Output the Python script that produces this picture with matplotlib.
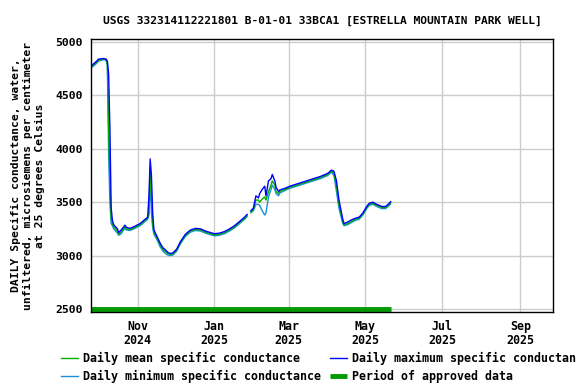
import matplotlib
matplotlib.use("Agg")
import matplotlib.pyplot as plt
import numpy as np
import pandas as pd

dates = ["2024-09-26","2024-09-29","2024-10-01","2024-10-05","2024-10-07","2024-10-08",
         "2024-10-09","2024-10-10","2024-10-11","2024-10-12","2024-10-13","2024-10-16",
         "2024-10-17","2024-10-19","2024-10-20","2024-10-22","2024-10-23","2024-10-26",
         "2024-10-29","2024-11-03","2024-11-07","2024-11-09","2024-11-10","2024-11-11",
         "2024-11-12","2024-11-13","2024-11-14","2024-11-17","2024-11-19","2024-11-21",
         "2024-11-23","2024-11-25","2024-11-27","2024-11-29","2024-12-02","2024-12-05",
         "2024-12-09","2024-12-13","2024-12-17","2024-12-21","2024-12-25","2024-12-29",
         "2025-01-01","2025-01-05","2025-01-09","2025-01-13","2025-01-17","2025-01-21",
         "2025-01-25","2025-01-27","2025-01-28","2025-01-30","2025-02-01","2025-02-03",
         "2025-02-05","2025-02-06","2025-02-08","2025-02-10","2025-02-11","2025-02-13",
         "2025-02-15","2025-02-16","2025-02-18","2025-02-19","2025-02-21","2025-02-22",
         "2025-02-26","2025-03-02","2025-03-10","2025-03-18","2025-03-26","2025-04-01",
         "2025-04-04","2025-04-06","2025-04-08","2025-04-10","2025-04-13","2025-04-14",
         "2025-04-17","2025-04-20","2025-04-23","2025-04-26","2025-04-29","2025-05-02",
         "2025-05-04","2025-05-07","2025-05-10","2025-05-14","2025-05-17","2025-05-20",
         "2025-05-21"]

mean_vals = [4775,4805,4830,4840,4835,4800,
             4200,3700,3350,3300,3270,3230,
             3200,3220,3240,3270,3250,3245,
             3260,3290,3330,3350,3400,3830,
             3550,3300,3220,3150,3100,3060,
             3040,3020,3010,3015,3050,3120,
             3190,3230,3245,3240,3220,3205,
             3195,3200,3215,3240,3270,3310,
             3350,3375,np.nan,3410,3430,3520,
             3520,3500,3530,3550,3520,3600,
             3660,3700,3660,3600,3580,3600,
             3620,3640,3670,3700,3730,3760,
             3790,3770,3650,3480,3320,3290,
             3300,3320,3340,3350,3390,3450,
             3480,3490,3470,3450,3450,3480,
             3495]

max_vals = [4785,4815,4840,4845,4840,4820,
            4700,4200,3450,3330,3290,3250,
            3215,3240,3255,3285,3265,3255,
            3270,3300,3340,3360,3550,3905,
            3750,3400,3240,3165,3115,3075,
            3055,3030,3020,3025,3060,3130,
            3200,3240,3255,3250,3230,3215,
            3205,3210,3225,3250,3280,3320,
            3360,3385,np.nan,3420,3445,3560,
            3540,3580,3620,3650,3560,3700,
            3720,3760,3700,3640,3600,3615,
            3630,3650,3680,3710,3740,3770,
            3800,3790,3700,3520,3340,3300,
            3315,3335,3350,3360,3400,3460,
            3490,3500,3480,3460,3460,3490,
            3505]

min_vals = [4765,4795,4820,4835,4830,4780,
            3950,3500,3300,3280,3250,3210,
            3190,3205,3225,3255,3240,3235,
            3250,3280,3320,3340,3380,3700,
            3400,3260,3200,3135,3080,3045,
            3020,3005,3000,3005,3040,3110,
            3180,3220,3235,3230,3210,3195,
            3185,3190,3205,3230,3260,3300,
            3340,3365,np.nan,3400,3420,3480,
            3480,3470,3420,3380,3400,3550,
            3620,3660,3620,3580,3560,3585,
            3610,3630,3660,3690,3720,3750,
            3780,3750,3600,3440,3300,3280,
            3290,3310,3330,3340,3380,3440,
            3470,3480,3460,3440,3440,3470,
            3485]

approved_start = "2024-09-25"
approved_end = "2025-05-21"
approved_level = 2500

title = "USGS 332314112221801 B-01-01 33BCA1 [ESTRELLA MOUNTAIN PARK WELL]"
ylabel = "DAILY Specific conductance, water,\nunfiltered, microsiemens per centimeter\nat 25 degrees Celsius"
yticks = [2500, 3000, 3500, 4000, 4500, 5000]
xtick_dates = ["2024-11-01","2025-01-01","2025-03-01","2025-05-01","2025-07-01","2025-09-01"]
xtick_labels = ["Nov\n2024","Jan\n2025","Mar\n2025","May\n2025","Jul\n2025","Sep\n2025"]

plt.rcParams['font.family'] = ['DejaVu Sans Mono']
plt.rcParams['font.weight'] = 'bold'

d = pd.to_datetime(dates)
fig = plt.figure(figsize=(5.76, 3.84), dpi=100)
ax = fig.add_axes([91/576, 1-312/384, 462/576, 273/384])

ax.grid(True, color="#cccccc", linewidth=1)
ax.set_axisbelow(True)

l_ap, = ax.plot(pd.to_datetime([approved_start, approved_end]), [approved_level]*2,
                color="#009900", linewidth=3.5, solid_capstyle='butt')
l_min, = ax.plot(d, min_vals, color="#1a8fd6", linewidth=1)
l_mean, = ax.plot(d, mean_vals, color="#00b000", linewidth=1)
l_max, = ax.plot(d, max_vals, color="#0000ff", linewidth=1)

ax.set_xlim(pd.Timestamp("2024-09-25"), pd.Timestamp("2025-09-27"))
ax.set_ylim(2472, 5028)
ax.set_yticks(yticks)
ax.set_yticklabels([str(v) for v in yticks], fontsize=8.2, fontweight='bold')
ax.set_xticks(pd.to_datetime(xtick_dates))
ax.set_xticklabels(xtick_labels, fontsize=8.4, fontweight='bold', linespacing=1.1)
ax.tick_params(axis='y', length=0, pad=6)
ax.tick_params(axis='x', length=0, pad=6)
for s in ax.spines.values():
    s.set_linewidth(1)
    s.set_color("black")

ax.set_title(title, fontsize=8.1, fontweight='bold', pad=11)
ax.set_ylabel(ylabel, fontsize=8.2, fontweight='bold', linespacing=1.3, labelpad=7)

leg = fig.legend([l_mean, l_min, l_max, l_ap],
                 ["Daily mean specific conductance", "Daily minimum specific conductance",
                  "Daily maximum specific conductance", "Period of approved data"],
                 ncol=2, loc="upper left", bbox_to_anchor=(56/576, 1-347/384),
                 frameon=False, fontsize=8.4, handlelength=1.45, columnspacing=0.7,
                 labelspacing=0.45, handletextpad=0.5, borderaxespad=0)

fig.savefig("out.png", dpi=100)
